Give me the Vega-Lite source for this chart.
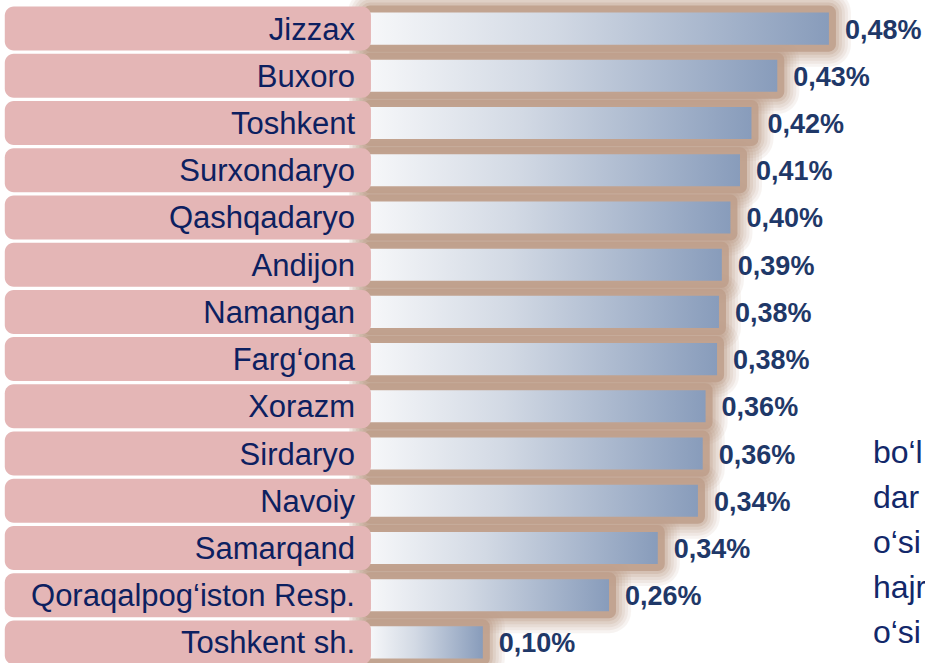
{
  "$schema": "https://vega.github.io/schema/vega-lite/v6.json",
  "width": 925,
  "height": 661,
  "autosize": "none",
  "padding": {"left": 0, "right": 0, "top": 5, "bottom": 0},
  "background": "white",
  "config": {"view": {"stroke": null}, "font": "Liberation Sans"},
  "data": {
    "values": [
      {"region": "Jizzax", "v": 0.480, "label": "0,48%"},
      {"region": "Buxoro", "v": 0.426, "label": "0,43%"},
      {"region": "Toshkent", "v": 0.399, "label": "0,42%"},
      {"region": "Surxondaryo", "v": 0.387, "label": "0,41%"},
      {"region": "Qashqadaryo", "v": 0.377, "label": "0,40%"},
      {"region": "Andijon", "v": 0.368, "label": "0,39%"},
      {"region": "Namangan", "v": 0.365, "label": "0,38%"},
      {"region": "Farg‘ona", "v": 0.363, "label": "0,38%"},
      {"region": "Xorazm", "v": 0.351, "label": "0,36%"},
      {"region": "Sirdaryo", "v": 0.348, "label": "0,36%"},
      {"region": "Navoiy", "v": 0.343, "label": "0,34%"},
      {"region": "Samarqand", "v": 0.301, "label": "0,34%"},
      {"region": "Qoraqalpog‘iston Resp.", "v": 0.250, "label": "0,26%"},
      {"region": "Toshkent sh.", "v": 0.118, "label": "0,10%"}
    ]
  },
  "encoding": {
    "y": {"field": "region", "type": "nominal", "sort": null, "axis": null,
          "scale": {"paddingInner": 0, "paddingOuter": 0}}
  },
  "layer": [
    {
      "mark": {"type": "bar", "height": {"band": 0.68}, "fill": "#c4a693", "stroke": "#c4a693", "strokeWidth": 44, "strokeJoin": "round", "opacity": 0.12},
      "encoding": {
        "x": {"field": "v", "type": "quantitative", "axis": null,
              "scale": {"domain": [-0.387, 0.5805], "nice": false, "zero": false}},
        "x2": {"datum": 0}
      }
    },
    {
      "mark": {"type": "bar", "height": {"band": 0.68}, "fill": "#c4a693", "stroke": "#c4a693", "strokeWidth": 38, "strokeJoin": "round", "opacity": 0.14},
      "encoding": {"x": {"field": "v", "type": "quantitative"}, "x2": {"datum": 0}}
    },
    {
      "mark": {"type": "bar", "height": {"band": 0.68}, "fill": "#c4a693", "stroke": "#c4a693", "strokeWidth": 32, "strokeJoin": "round", "opacity": 0.16},
      "encoding": {"x": {"field": "v", "type": "quantitative"}, "x2": {"datum": 0}}
    },
    {
      "mark": {"type": "bar", "height": {"band": 0.68}, "fill": "#c0a18d", "stroke": "#c0a18d", "strokeWidth": 26, "strokeJoin": "round", "opacity": 0.2},
      "encoding": {"x": {"field": "v", "type": "quantitative"}, "x2": {"datum": 0}}
    },
    {
      "mark": {"type": "bar", "height": {"band": 0.68}, "fill": "#c0a18d", "stroke": "#c0a18d", "strokeWidth": 20, "strokeJoin": "round", "opacity": 0.3},
      "encoding": {"x": {"field": "v", "type": "quantitative"}, "x2": {"datum": 0}}
    },
    {
      "mark": {"type": "bar", "height": {"band": 0.68}, "fill": "#bf9f8b", "stroke": "#bf9f8b", "strokeWidth": 14, "strokeJoin": "round", "opacity": 0.85},
      "encoding": {"x": {"field": "v", "type": "quantitative"}, "x2": {"datum": 0}}
    },
    {
      "mark": {"type": "bar", "height": {"band": 0.68},
               "fill": {"gradient": "linear", "x1": 0, "y1": 0, "x2": 1, "y2": 0,
                        "stops": [{"offset": 0, "color": "#f6f7f9"}, {"offset": 0.4, "color": "#d2d9e4"}, {"offset": 1, "color": "#889cbb"}]}},
      "encoding": {"x": {"field": "v", "type": "quantitative"}, "x2": {"datum": 0}}
    },
    {
      "mark": {"type": "bar", "height": {"band": 0.932}, "fill": "#e4b6b6", "cornerRadius": 9},
      "encoding": {"x": {"datum": -0.382}, "x2": {"datum": 0.001}}
    },
    {
      "mark": {"type": "text", "align": "right", "baseline": "alphabetic", "dx": -15, "dy": 11, "fontSize": 31, "color": "#0c2060"},
      "encoding": {"x": {"datum": 0}, "text": {"field": "region"}}
    },
    {
      "mark": {"type": "text", "align": "left", "baseline": "alphabetic", "dx": 16, "dy": 10, "fontSize": 27, "fontWeight": "bold", "color": "#1f3868"},
      "encoding": {"x": {"field": "v", "type": "quantitative"}, "text": {"field": "label"}}
    },
    {
      "data": {"values": [{"lines": ["bo‘l", "dar", "o‘si", "hajr", "o‘si"]}]},
      "mark": {"type": "text", "align": "left", "baseline": "alphabetic", "dy": 9, "fontSize": 32, "lineHeight": 45, "color": "#12286a"},
      "encoding": {
        "x": {"datum": 0.526},
        "y": {"datum": "Sirdaryo", "type": "nominal"},
        "text": {"field": "lines"}
      }
    }
  ]
}
